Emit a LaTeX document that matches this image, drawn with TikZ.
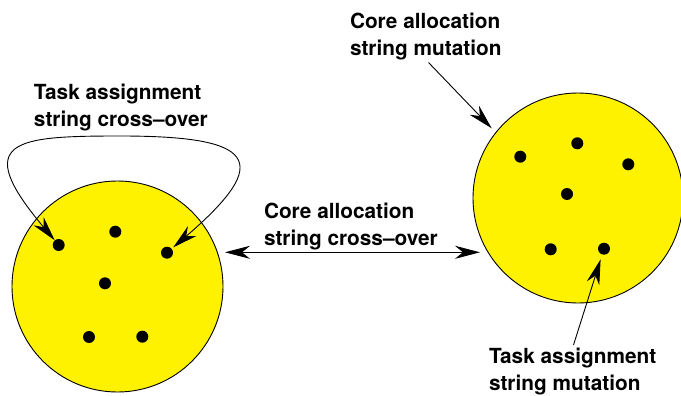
\documentclass[tikz,border=0pt]{standalone}
\usepackage{fontspec}
\setmainfont{TeX Gyre Heros}
\usetikzlibrary{arrows.meta}
\begin{document}
\begin{tikzpicture}[x=1pt,y=-1pt,
  >={Stealth[length=25pt,width=13pt,inset=8pt]},
  pop/.style={circle, draw=black, fill=yellow, line width=0.9pt,
    minimum size=211pt, inner sep=0pt},
  gene/.style={circle, fill=black, minimum size=12pt, inner sep=0pt},
  lbl/.style={anchor=base west, align=left, inner sep=0pt, outer sep=0pt,
    font=\bfseries\fontsize{20.8}{26.8}\selectfont},
  conn/.style={line width=0.9pt, draw=black}
]
\useasboundingbox (0,0) rectangle (681,396);

% two populations
\node[pop] (lpop) at (117.5,286.5) {};
\node[pop, minimum size=210pt] (rpop) at (578,198) {};

% members of the left population
\node[gene] (d1) at (58.7,245) {};
\node[gene] (d2) at (115.3,231.7) {};
\node[gene] (d3) at (167,252.7) {};
\node[gene] (d4) at (105,283.3) {};
\node[gene] (d5) at (89,337) {};
\node[gene] (d6) at (142.3,336.7) {};

% members of the right population
\node[gene] (e1) at (520.3,156.7) {};
\node[gene] (e2) at (577.3,143.3) {};
\node[gene] (e3) at (628.3,164.3) {};
\node[gene] (e4) at (567,194) {};
\node[gene] (e5) at (550.7,249.3) {};
\node[gene] (e6) at (604,248.7) {};

% labels (anchored at the baseline of their second line)
\node[lbl] (L1) at (34,126.8) {Task assignment\\string cross–over};
\node[lbl] (L2) at (264,245.5) {Core allocation\\string cross–over};
\node[lbl] (L3) at (350,55.1) {Core allocation\\string mutation};
\node[lbl] (L4) at (489,390.1) {Task assignment\\string mutation};

% cross-over inside the left population
\draw[conn,<->,shorten >=2pt]
  (d1) .. controls (-30,140) and (15,136) .. (120,136)
       .. controls (255,136) and (275,160) .. (d3);

% cross-over between the populations
\coordinate (xa) at (225,252.3);
\coordinate (xb) at (480,252.3);
\draw[conn,<->] (xa) -- (xb);

% mutations of the right population
\coordinate (ct) at (491.7,128.3);
\draw[conn,->,shorten <=4pt] (L3.south) -- (ct);
\draw[conn,->,shorten <=3pt,shorten >=5pt] (L4.north) -- (e6);
\end{tikzpicture}
\end{document}
